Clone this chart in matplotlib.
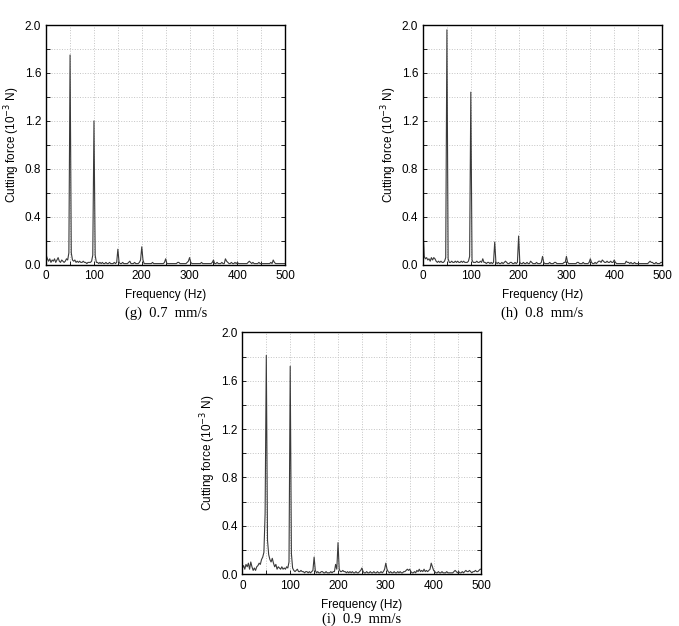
import numpy as np
import matplotlib.pyplot as plt

plt.rcParams['font.family'] = ['Liberation Sans', 'DejaVu Sans']
plt.rcParams['font.size'] = 8.5

# frequency grid, 2.5 Hz steps, 0..500 Hz
freq = np.arange(0, 502.5, 2.5)

# amplitudes (10^-3 N)
amp_g = [
    0.08, 0.05, 0.03, 0.05, 0.02, 0.04, 0.03, 0.05, 0.02, 0.04, 0.06, 0.03, 0.02, 0.04, 0.03, 0.02, 0.03, 0.05, 0.04, 0.10,
    1.75, 0.10, 0.04, 0.03, 0.04, 0.02, 0.03, 0.02, 0.03, 0.02, 0.02, 0.03, 0.02, 0.02, 0.01, 0.02, 0.02, 0.02, 0.03, 0.08,
    1.20, 0.08, 0.02, 0.02, 0.01, 0.02, 0.01, 0.02, 0.01, 0.01, 0.02, 0.01, 0.01, 0.02, 0.01, 0.01, 0.01, 0.02, 0.01, 0.02,
    0.13, 0.02, 0.01, 0.01, 0.02, 0.01, 0.01, 0.01, 0.01, 0.02, 0.03, 0.01, 0.01, 0.01, 0.02, 0.01, 0.01, 0.01, 0.02, 0.04,
    0.15, 0.04, 0.01, 0.01, 0.01, 0.01, 0.01, 0.01, 0.01, 0.02, 0.01, 0.01, 0.01, 0.01, 0.01, 0.01, 0.01, 0.01, 0.01, 0.02,
    0.05, 0.01, 0.01, 0.01, 0.01, 0.01, 0.01, 0.01, 0.01, 0.01, 0.02, 0.02, 0.01, 0.01, 0.01, 0.01, 0.01, 0.01, 0.02, 0.03,
    0.06, 0.02, 0.01, 0.01, 0.01, 0.01, 0.01, 0.01, 0.01, 0.01, 0.02, 0.01, 0.01, 0.01, 0.01, 0.01, 0.01, 0.01, 0.01, 0.02,
    0.04, 0.01, 0.01, 0.02, 0.01, 0.01, 0.01, 0.02, 0.01, 0.01, 0.05, 0.03, 0.02, 0.01, 0.01, 0.02, 0.01, 0.01, 0.02, 0.01,
    0.02, 0.01, 0.01, 0.01, 0.01, 0.01, 0.01, 0.01, 0.01, 0.02, 0.03, 0.02, 0.01, 0.02, 0.01, 0.01, 0.01, 0.01, 0.02, 0.01,
    0.01, 0.01, 0.01, 0.01, 0.01, 0.01, 0.01, 0.01, 0.02, 0.01, 0.04, 0.02, 0.01, 0.01, 0.01, 0.01, 0.01, 0.01, 0.01, 0.01,
    0.01]

amp_h = [
    0.30, 0.07, 0.05, 0.06, 0.04, 0.05, 0.03, 0.06, 0.04, 0.06, 0.05, 0.03, 0.02, 0.03, 0.02, 0.03, 0.02, 0.02, 0.03, 0.06,
    1.96, 0.05, 0.02, 0.02, 0.03, 0.02, 0.02, 0.03, 0.02, 0.03, 0.02, 0.02, 0.03, 0.02, 0.03, 0.02, 0.02, 0.02, 0.03, 0.07,
    1.44, 0.04, 0.02, 0.02, 0.02, 0.03, 0.02, 0.02, 0.03, 0.02, 0.05, 0.02, 0.02, 0.01, 0.02, 0.02, 0.01, 0.02, 0.01, 0.02,
    0.19, 0.02, 0.01, 0.02, 0.01, 0.01, 0.02, 0.01, 0.02, 0.03, 0.02, 0.01, 0.01, 0.02, 0.02, 0.01, 0.01, 0.02, 0.01, 0.02,
    0.24, 0.02, 0.01, 0.01, 0.02, 0.01, 0.01, 0.02, 0.01, 0.01, 0.03, 0.02, 0.01, 0.01, 0.01, 0.02, 0.01, 0.01, 0.01, 0.02,
    0.07, 0.02, 0.01, 0.01, 0.01, 0.01, 0.02, 0.01, 0.01, 0.01, 0.02, 0.02, 0.01, 0.01, 0.01, 0.01, 0.01, 0.01, 0.02, 0.02,
    0.07, 0.02, 0.01, 0.01, 0.01, 0.01, 0.01, 0.01, 0.01, 0.02, 0.02, 0.01, 0.01, 0.01, 0.02, 0.01, 0.01, 0.01, 0.01, 0.02,
    0.05, 0.02, 0.01, 0.01, 0.02, 0.01, 0.02, 0.03, 0.03, 0.02, 0.04, 0.03, 0.02, 0.02, 0.03, 0.02, 0.02, 0.03, 0.02, 0.02,
    0.04, 0.02, 0.01, 0.01, 0.01, 0.01, 0.01, 0.01, 0.01, 0.01, 0.03, 0.02, 0.02, 0.01, 0.02, 0.01, 0.01, 0.02, 0.01, 0.01,
    0.01, 0.01, 0.01, 0.01, 0.01, 0.01, 0.01, 0.01, 0.01, 0.02, 0.03, 0.02, 0.02, 0.01, 0.01, 0.02, 0.01, 0.01, 0.01, 0.02,
    0.02]

amp_i = [
    0.05, 0.07, 0.04, 0.08, 0.06, 0.09, 0.04, 0.10, 0.06, 0.03, 0.05, 0.03, 0.06, 0.07, 0.09, 0.08, 0.12, 0.14, 0.18, 0.50,
    1.81, 0.28, 0.16, 0.12, 0.10, 0.13, 0.09, 0.06, 0.08, 0.04, 0.06, 0.05, 0.04, 0.06, 0.04, 0.05, 0.04, 0.06, 0.05, 0.10,
    1.72, 0.17, 0.05, 0.03, 0.02, 0.03, 0.04, 0.02, 0.02, 0.03, 0.02, 0.02, 0.01, 0.02, 0.02, 0.01, 0.02, 0.01, 0.02, 0.03,
    0.14, 0.03, 0.01, 0.02, 0.01, 0.01, 0.02, 0.02, 0.01, 0.01, 0.02, 0.01, 0.01, 0.01, 0.02, 0.01, 0.02, 0.02, 0.08, 0.04,
    0.26, 0.04, 0.02, 0.02, 0.03, 0.02, 0.02, 0.01, 0.02, 0.01, 0.02, 0.01, 0.02, 0.01, 0.01, 0.02, 0.01, 0.01, 0.02, 0.03,
    0.05, 0.02, 0.01, 0.01, 0.02, 0.01, 0.01, 0.02, 0.01, 0.01, 0.02, 0.01, 0.01, 0.02, 0.01, 0.01, 0.02, 0.01, 0.02, 0.04,
    0.09, 0.04, 0.02, 0.01, 0.02, 0.01, 0.01, 0.02, 0.01, 0.01, 0.02, 0.01, 0.02, 0.01, 0.01, 0.02, 0.02, 0.03, 0.04, 0.03,
    0.04, 0.02, 0.01, 0.01, 0.02, 0.01, 0.03, 0.02, 0.04, 0.02, 0.03, 0.02, 0.04, 0.02, 0.03, 0.02, 0.03, 0.04, 0.09, 0.06,
    0.03, 0.02, 0.01, 0.01, 0.02, 0.01, 0.01, 0.02, 0.01, 0.01, 0.01, 0.02, 0.01, 0.01, 0.01, 0.01, 0.01, 0.02, 0.03, 0.02,
    0.01, 0.02, 0.01, 0.01, 0.02, 0.01, 0.02, 0.03, 0.02, 0.02, 0.03, 0.02, 0.01, 0.02, 0.02, 0.03, 0.02, 0.02, 0.03, 0.04,
    0.04]

captions = ['(g)  0.7  mm/s', '(h)  0.8  mm/s', '(i)  0.9  mm/s']
panels = [amp_g, amp_h, amp_i]

fig = plt.figure(figsize=(6.79, 6.26), dpi=100)
boxes = [[0.068, 0.577, 0.352, 0.383],
         [0.623, 0.577, 0.352, 0.383],
         [0.357, 0.083, 0.352, 0.386]]
cap_y = [-0.175, -0.175, -0.16]

for box, amp, cap, cy in zip(boxes, panels, captions, cap_y):
    ax = fig.add_axes(box)
    ax.plot(freq, amp, c='#3a3a3a', lw=0.8)
    ax.set_xlim(0, 500)
    ax.set_ylim(0, 2.0)
    ax.set_xticks(np.arange(0, 501, 100))
    ax.set_xticks(np.arange(0, 501, 50), minor=True)
    ax.set_yticks(np.arange(0, 2.01, 0.4))
    ax.set_yticks(np.arange(0, 2.01, 0.2), minor=True)
    ax.yaxis.set_major_formatter(plt.FormatStrFormatter('%.1f'))
    ax.grid(which='both', ls=':', c='#c4c4c4', lw=0.7)
    ax.tick_params(which='both', direction='in', top=False, right=True, length=3, width=0.6)
    ax.tick_params(axis='x', pad=4)
    for s in ax.spines.values():
        s.set_linewidth(1.0)
    ax.set_xlabel('Frequency (Hz)', labelpad=5)
    ax.set_ylabel(r'Cutting force (10$^{-3}$ N)', labelpad=2)
    ax.text(0.5, cy, cap, transform=ax.transAxes, ha='center', va='top',
            fontsize=10.5, family=['Liberation Serif', 'DejaVu Serif'])

fig.savefig('out.png', dpi=100)
